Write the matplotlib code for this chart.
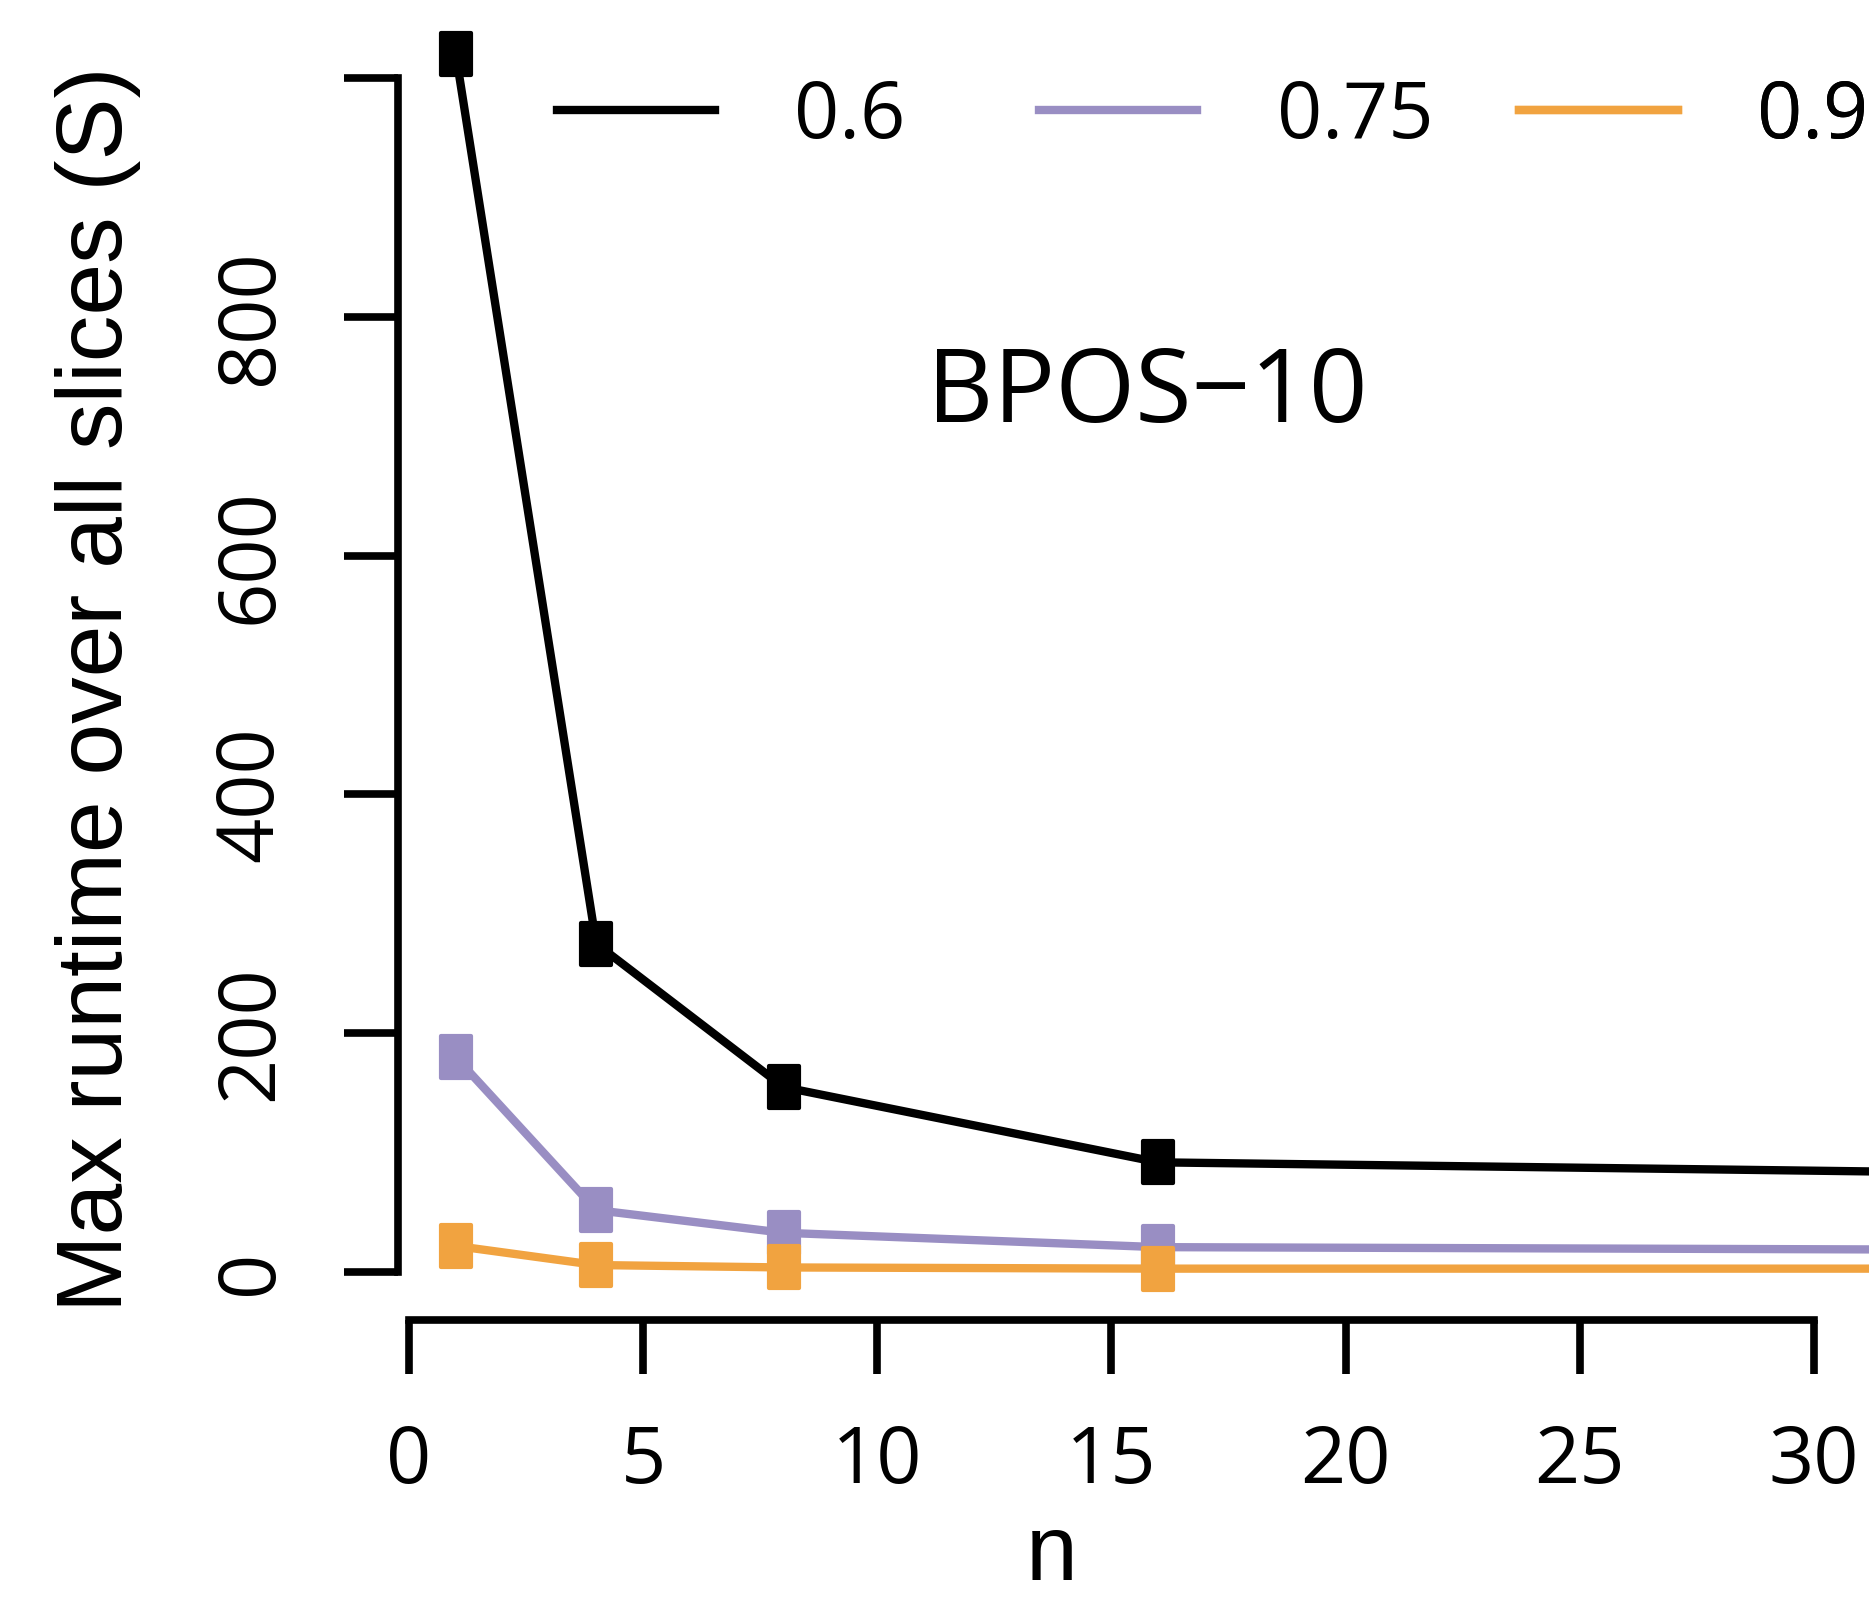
import matplotlib
matplotlib.use('Agg')
import matplotlib.pyplot as plt
from matplotlib.path import Path
from matplotlib.lines import Line2D

plt.rcParams['font.family'] = ['Open Sans', 'DejaVu Sans']

# data
n_vals = [1, 4, 8, 16, 32]
t_06 = [1020, 275, 155, 92, 84]
t_075 = [180, 52, 33, 21, 19]
t_09 = [22, 6, 4, 3, 3]

series_labels = ['0.6', '0.75', '0.9']
series_colors = ['#000000', '#998ec3', '#f1a340']

x_ticks = [0, 5, 10, 15, 20, 25, 30]
y_ticks = [0, 200, 400, 600, 800, 1000]
y_tick_labels = ['0', '200', '400', '600', '800', '']

# tall rounded square marker
hw = 0.37
box = Path([(-hw, -0.5), (hw, -0.5), (hw, 0.5), (-hw, 0.5), (-hw, -0.5)],
           [Path.MOVETO, Path.LINETO, Path.LINETO, Path.LINETO, Path.CLOSEPOLY])

fig = plt.figure(figsize=(18.69, 16), dpi=100)
ax = fig.add_axes([0.2128, 0.175, 0.8389, 0.8219])

for vals, col in zip([t_06, t_075, t_09], series_colors):
    ax.plot(n_vals, vals, color=col, lw=6, marker=box, markersize=30,
            markerfacecolor=col, markeredgecolor=col, markeredgewidth=3,
            solid_joinstyle='round', clip_on=False)

ax.set_xlim(-0.24, 33.24)
ax.set_ylim(-40, 1061)
ax.set_xticks(x_ticks)
ax.set_yticks(y_ticks)
ax.set_yticklabels(y_tick_labels)

for s in ['top', 'right']:
    ax.spines[s].set_visible(False)
ax.spines['left'].set_bounds(0, 1000)
ax.spines['bottom'].set_bounds(0, 30)
for s in ['left', 'bottom']:
    ax.spines[s].set_linewidth(5.5)
    ax.spines[s].set_capstyle('projecting')

ax.tick_params(length=39, width=5.5, pad=35, labelsize=57)
ax.tick_params(axis='y', labelrotation=90, pad=38)
for lab in ax.get_yticklabels():
    lab.set_va('center')

# legend, three equally spaced entries
for lab, col, x0 in zip(series_labels, series_colors, [0.298, 0.556, 0.813]):
    h = Line2D([], [], color=col, lw=6)
    leg = ax.legend([h], [lab], loc='center left', bbox_to_anchor=(x0, 0.9265),
                    bbox_transform=fig.transFigure, frameon=False, fontsize=57,
                    handlelength=2.0, handletextpad=1.0, borderpad=0, borderaxespad=0)
    ax.add_artist(leg)

fig.text(0.614, 0.736, 'BPOS\u221210', fontsize=74, ha='center', va='baseline')

fig.text(0.0653, 0.569, 'Max runtime over all slices (S)', fontsize=67,
         family='Liberation Sans', rotation=90, ha='center', va='baseline',
         rotation_mode='anchor')
fig.text(0.5629, 0.0125, 'n', fontsize=67, family='Liberation Sans',
         ha='center', va='baseline')

plt.savefig('out.png', dpi=100)
